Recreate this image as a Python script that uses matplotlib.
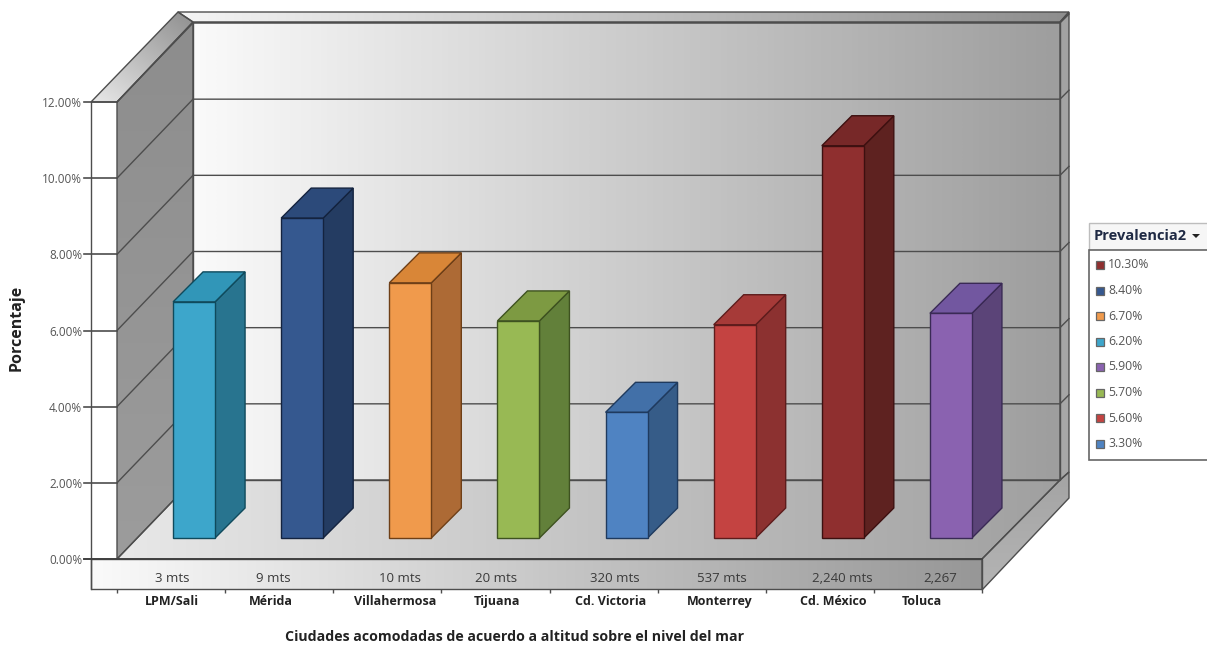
import numpy as np
import matplotlib
matplotlib.use('Agg')
import matplotlib.pyplot as plt
from matplotlib.colors import LinearSegmentedColormap
from matplotlib.patches import Polygon, Rectangle
from matplotlib.transforms import Affine2D

plt.rcParams['font.family'] = ['Open Sans', 'DejaVu Sans']

# Data
cities = ['LPM/Sali', 'Mérida', 'Villahermosa', 'Tijuana', 'Cd. Victoria', 'Monterrey', 'Cd. México', 'Toluca']
altitudes = ['3 mts', '9 mts', '10 mts', '20 mts', '320 mts', '537 mts', '2,240 mts', '2,267']
prevalence = [6.2, 8.4, 6.7, 5.7, 3.3, 5.6, 10.3, 5.9]
y_ticks = [0, 2, 4, 6, 8, 10, 12]
legend_values = [10.3, 8.4, 6.7, 6.2, 5.9, 5.7, 5.6, 3.3]

# Bar colours, one list per face
front_colors = ['#3da6cb', '#35588f', '#f09a4c', '#98b954', '#4f83c2', '#c44341', '#8f2f2f', '#8a62b0']
side_colors = ['#28748f', '#243c62', '#ad6a35', '#62803a', '#365c88', '#8c3130', '#5e2220', '#5b4478']
top_colors = ['#3196b8', '#2c4a7a', '#d98637', '#7d9a42', '#4270a8', '#a63a38', '#772828', '#7257a0']
edge_colors = ['#0f4a5c', '#14233f', '#6e3f17', '#3e5220', '#1f3a5e', '#5e1c1c', '#3d1010', '#3a2a55']

# Small nudges so the labels sit where the category text was typed
altitude_shift = [1, -6, 13, 1, 11, 10, 23, 12]
city_shift = [1, -8, 8, 2, 7, 8, 13, -6]

LINE = '#4d4d4d'
W, H = 1207, 650

fig = plt.figure(figsize=(W / 100, H / 100), dpi=100, facecolor='white')

# Background axes in pixel units holds the walls, floor and legend box
bg = fig.add_axes([0, 0, 1, 1])
bg.set_xlim(0, W)
bg.set_ylim(H, 0)
bg.axis('off')
bg.set_autoscale_on(False)


def shade(points, c0, c1, angle=0.0, edge=LINE, lw=1.0):
    """Fill a polygon with a linear gradient and outline it."""
    pts = np.array(points, dtype=float)
    x0, y0 = pts.min(axis=0)
    x1, y1 = pts.max(axis=0)
    xx, yy = np.meshgrid(np.linspace(0, 1, 128), np.linspace(0, 1, 128))
    a = np.radians(angle)
    grad = xx * np.cos(a) + yy * np.sin(a)
    cmap = LinearSegmentedColormap.from_list('g', [c0, c1])
    im = bg.imshow(grad, extent=[x0, x1, y1, y0], cmap=cmap, aspect='auto',
                   interpolation='bilinear', zorder=1)
    poly = Polygon(pts, closed=True, facecolor='none', edgecolor=edge, lw=lw, zorder=2)
    bg.add_patch(poly)
    im.set_clip_path(poly)


# Walls
shade([(193, 22), (1060, 22), (1060, 480), (193, 480)], '#fafafa', '#9e9e9e', 0)
shade([(117, 102), (193, 22), (193, 480), (117, 559)], '#8d8d8d', '#9c9c9c', 90)
shade([(91, 102), (178, 12), (193, 22), (117, 102)], '#e8e8e8', '#8f8f8f', -50)
shade([(178, 12), (1069, 12), (1060, 22), (193, 22)], '#f4f4f4', '#8e8e8e', 0)
shade([(1060, 22), (1069, 12), (1069, 472), (1060, 480)], '#a2a2a2', '#a8a8a8', 90)
# Floor and its front and side lips
shade([(117, 559), (982, 559), (1060, 480), (193, 480)], '#e8e8e8', '#a0a0a0', 0)
shade([(982, 559), (1060, 480), (1069, 472), (1069, 498), (982, 590)], '#a4a4a4', '#b4b4b4', 90)
shade([(91, 559), (982, 559), (982, 589), (91, 589)], '#fafafa', '#979797', 0)
bg.plot([91, 91], [102, 589], color=LINE, lw=1.0, zorder=3)

# Grid lines on the walls, one height at a time
for t in y_ticks:
    yy = 559 - t * 457 / 12
    back = yy - 79
    if t > 0:
        bg.plot([117, 193, 1060, 1069], [yy, back, back, back - 9], color=LINE, lw=1.0, zorder=3)
    bg.plot([84, 117], [yy, yy], color=LINE, lw=1.2, zorder=3)
bg.plot([84, 982], [559, 559], color='#3f3f3f', lw=1.3, zorder=3)

# Chart axes: the front plane of the plot carries the real scales
ax = fig.add_axes([117 / W, (H - 559) / H, 865 / W, 457 / H], facecolor='none')
ax.set_autoscale_on(False)
ax.set_xlim(0, 8)
ax.set_ylim(0, 12)
for name in ['top', 'right', 'left', 'bottom']:
    ax.spines[name].set_visible(False)
ax.set_yticks(y_ticks)
ax.set_yticklabels(['%.2f%%' % t for t in y_ticks], fontsize=8.5, color='#555555')
ax.tick_params(axis='y', length=0, pad=25)
ax.set_xticks(range(9))
ax.set_xticklabels([])
ax.tick_params(axis='x', length=3, width=1, color=LINE, pad=0)
for tick in ax.xaxis.get_major_ticks():
    tick.tick1line.set_transform(ax.get_xaxis_transform() + Affine2D().translate(0, -30))

# The bars stand part way back on the floor
bar_trans = ax.transData + Affine2D().translate(23, 21)
bar_w = 42 / (865 / 8)
depth_x = 30 / (865 / 8)
depth_y = 30 / (457 / 12)

for i, v in enumerate(prevalence):
    x0 = i + 0.5 - bar_w / 2
    x1 = x0 + bar_w
    edge = edge_colors[i]
    side = Polygon([(x1, 0), (x1 + depth_x, depth_y), (x1 + depth_x, v + depth_y), (x1, v)],
                   facecolor=side_colors[i], edgecolor=edge, lw=1.0, transform=bar_trans,
                   zorder=5, clip_on=False)
    top = Polygon([(x0, v), (x0 + depth_x, v + depth_y), (x1 + depth_x, v + depth_y), (x1, v)],
                  facecolor=top_colors[i], edgecolor=edge, lw=1.0, transform=bar_trans,
                  zorder=5, clip_on=False)
    ax.add_patch(side)
    ax.add_patch(top)
    ax.bar(i + 0.5, v, bar_w, color=front_colors[i], edgecolor=edge, lw=1.0,
           transform=bar_trans, zorder=6, clip_on=False)

# Text below the axis
for i in range(8):
    x_px = 117 + (i + 0.5) * 865 / 8
    fig.text((x_px + altitude_shift[i]) / W, 1 - 582 / H, altitudes[i], ha='center', va='baseline',
             fontsize=9.5, color='#3a3a3a')
    fig.text((x_px + city_shift[i]) / W, 1 - 605 / H, cities[i], ha='center', va='baseline',
             fontsize=9, fontweight='bold', color='#222222')

fig.text(515 / W, 1 - 641 / H, 'Ciudades acomodadas de acuerdo a altitud sobre el nivel del mar',
         ha='center', va='baseline', fontsize=10.2, fontweight='bold', color='#222222')
fig.text(17 / W, 1 - 328 / H, 'Porcentaje', rotation=90, ha='center', va='center',
         fontsize=11.5, fontweight='bold', color='#222222')

# Legend box, sorted by value as the pivot field lists it
bg.add_patch(Rectangle((1089, 223), 125, 27, facecolor='#f6f6f6', edgecolor='#bdbdbd', lw=1.0, zorder=2))
bg.add_patch(Rectangle((1089, 250), 125, 210, facecolor='white', edgecolor='#666666', lw=1.2, zorder=2))
bg.text(1094, 236, 'Prevalencia2', fontsize=10.5, fontweight='bold', color='#1f2a44', va='center', zorder=3)
bg.add_patch(Polygon([(1192, 234), (1200, 234), (1196, 238)], facecolor='#222222', lw=0, zorder=3))
for n, val in enumerate(legend_values):
    yy = 265 + n * 25.5
    idx = prevalence.index(val)
    bg.add_patch(Rectangle((1096, yy - 4), 8, 8, facecolor=front_colors[idx], edgecolor='#666666', lw=0.9, zorder=3))
    bg.text(1108, yy, '%.2f%%' % val, fontsize=8.8, color='#555555', va='center', zorder=3)

fig.savefig('out.png', dpi=100)
